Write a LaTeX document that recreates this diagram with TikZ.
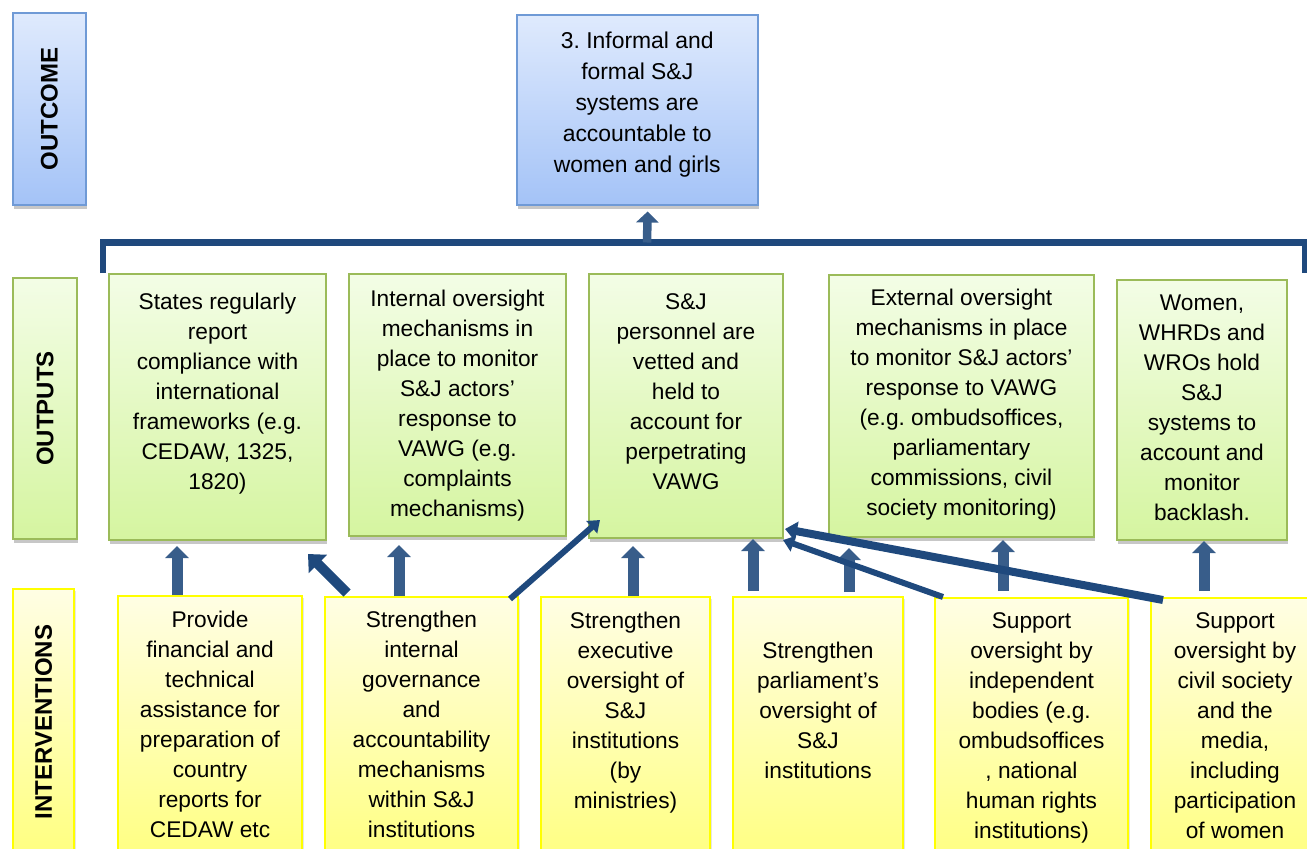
\documentclass[tikz,border=0pt]{standalone}
\usepackage{fontspec}
\setmainfont{Liberation Sans}
\frenchspacing
\usetikzlibrary{arrows.meta,shadows}

\definecolor{outcometop}{HTML}{DFEAFD}
\definecolor{outcomebot}{HTML}{A4C3F7}
\definecolor{outcomeline}{HTML}{6F9AD6}
\definecolor{outputtop}{HTML}{F3FDE6}
\definecolor{outputbot}{HTML}{D5F5A0}
\definecolor{outputline}{HTML}{9BBB59}
\definecolor{inttop}{HTML}{FFFEE4}
\definecolor{intbot}{HTML}{FFFF80}
\definecolor{intline}{HTML}{FFFF00}
\definecolor{arrowsteel}{HTML}{385D8A}
\definecolor{arrowdark}{HTML}{1F497D}

\begin{document}
\begin{tikzpicture}[x=1pt,y=-1pt,
  outcomebox/.style={draw=outcomeline, line width=1.5pt, top color=outcometop, bottom color=outcomebot,
    anchor=north west, inner sep=0pt,
    drop shadow={shadow xshift=1pt, shadow yshift=-4pt, fill=black!22, opacity=1}},
  outputbox/.style={draw=outputline, line width=2pt, top color=outputtop, bottom color=outputbot,
    anchor=north west, inner sep=0pt,
    drop shadow={shadow xshift=1pt, shadow yshift=-4pt, fill=black!22, opacity=1}},
  intbox/.style={draw=intline, line width=2pt, top color=inttop, bottom color=intbot,
    anchor=north west, inner sep=0pt,
    drop shadow={shadow xshift=2pt, shadow yshift=-2pt, fill=black!10, opacity=1}},
  body/.style={font=\fontsize{22.7}{30}\selectfont\frenchspacing, align=center, inner sep=0pt, anchor=north},
  outcometext/.style={font=\fontsize{22.9}{31}\selectfont\frenchspacing, align=center, inner sep=0pt, anchor=north},
  rowlabel/.style={font=\fontsize{24}{28}\selectfont\bfseries, rotate=90, inner sep=0pt},
  uparrow/.style={draw=arrowsteel, line width=11pt, -{Triangle[width=23pt,length=12pt]}},
  bigslant/.style={draw=arrowdark, line width=10pt, -{Triangle[width=25pt,length=14pt]}},
  thinslant/.style={draw=arrowdark, line width=6pt, -{Triangle[width=16pt,length=11pt]}},
  midslant/.style={draw=arrowdark, line width=8pt, -{Triangle[width=19pt,length=12pt]}},
  bracket/.style={draw=arrowdark, line width=6.5pt},
  bracketarrow/.style={draw=arrowsteel, line width=8.5pt, -{Triangle[width=22pt,length=11pt]}}
]
\useasboundingbox (0,0) rectangle (1307,849);

% row labels
\node[outcomebox, minimum width=73pt, minimum height=192pt] (lboxoutcome) at (12,12) {};
\node[rowlabel] (ltextoutcome) at (lboxoutcome.center) {OUTCOME};
\node[outputbox, minimum width=64pt, minimum height=261pt] (lboxoutputs) at (12,277) {};
\node[rowlabel] (ltextoutputs) at (lboxoutputs.center) {OUTPUTS};
\node[intbox, minimum width=61pt, minimum height=266pt] (lboxint) at (12,588) {};
\node[rowlabel] (ltextint) at (lboxint.center) {INTERVENTIONS};

% outcome
\node[outcomebox, minimum width=241pt, minimum height=190pt] (outc) at (516,14) {};
\node[outcometext] (outct) at ([yshift=-18pt]outc.north)
  {3. Informal and\\formal S\&J\\systems are\\accountable to\\women and girls};

% outputs
\node[outputbox, minimum width=217pt, minimum height=266pt] (o1) at (108,273) {};
\node[body] (o1t) at ([yshift=-20pt]o1.north)
  {States regularly\\report\\compliance with\\international\\frameworks (e.g.\\CEDAW, 1325,\\1820)};
\node[outputbox, minimum width=217pt, minimum height=262pt] (o2) at (348,273) {};
\node[body] (o2t) at ([yshift=-17pt]o2.north)
  {Internal oversight\\mechanisms in\\place to monitor\\S\&J actors’\\response to\\VAWG (e.g.\\complaints\\mechanisms)};
\node[outputbox, minimum width=194pt, minimum height=264pt] (o3) at (588,273) {};
\node[body] (o3t) at ([yshift=-20pt]o3.north)
  {S\&J\\personnel are\\vetted and\\held to\\account for\\perpetrating\\VAWG};
\node[outputbox, minimum width=265pt, minimum height=262pt] (o4) at (828,274) {};
\node[body] (o4t) at ([yshift=-15pt]o4.north)
  {External oversight\\mechanisms in place\\to monitor S\&J actors’\\response to VAWG\\(e.g. ombudsoffices,\\parliamentary\\commissions, civil\\society monitoring)};
\node[outputbox, minimum width=170pt, minimum height=260pt] (o5) at (1116,279) {};
\node[body] (o5t) at ([yshift=-16pt]o5.north)
  {Women,\\WHRDs and\\WROs hold\\S\&J\\systems to\\account and\\monitor\\backlash.};

% interventions
\node[intbox, minimum width=184pt, minimum height=265pt] (i1) at (117,595) {};
\node[body] (i1t) at ([yshift=-16pt]i1.north)
  {Provide\\financial and\\technical\\assistance for\\preparation of\\country\\reports for\\CEDAW etc};
\node[intbox, minimum width=193pt, minimum height=265pt] (i2) at (324,596) {};
\node[body] (i2t) at ([yshift=-15pt]i2.north)
  {Strengthen\\internal\\governance\\and\\accountability\\mechanisms\\within S\&J\\institutions};
\node[intbox, minimum width=169pt, minimum height=265pt] (i3) at (540,596) {};
\node[body] (i3t) at ([yshift=-16pt]i3.north)
  {Strengthen\\executive\\oversight of\\S\&J\\institutions\\(by\\ministries)};
\node[intbox, minimum width=170pt, minimum height=265pt] (i4) at (732,596) {};
\node[body] (i4t) at ([yshift=-46pt]i4.north)
  {Strengthen\\parliament’s\\oversight of\\S\&J\\institutions};
\node[intbox, minimum width=193pt, minimum height=265pt] (i5) at (934,597) {};
\node[body] (i5t) at ([yshift=-15pt]i5.north)
  {Support\\oversight by\\independent\\bodies (e.g.\\ombudsoffices\\, national\\human rights\\institutions)};
\node[intbox, minimum width=168pt, minimum height=265pt] (i6) at (1150,597) {};
\node[body] (i6t) at ([yshift=-15pt]i6.north)
  {Support\\oversight by\\civil society\\and the\\media,\\including\\participation\\of women};

% bracket joining the outputs to the outcome
\coordinate (brl) at (103,273);
\coordinate (brr) at (1305,273);
\coordinate (brm) at (647,242.5);
\draw[bracket] (brl) |- (brm) -| (brr);
\draw[bracketarrow, shorten >=6pt] (brm) -- ([xshift=10.5pt]outc.south);

% vertical arrows
\draw[uparrow, shorten >=5pt] ([xshift=-33pt]i1.north) -- ([xshift=-40.5pt]o1.south);
\draw[uparrow, shorten >=8pt] ([xshift=-22.5pt]i2.north) -- ([xshift=-58.5pt]o2.south);
\draw[uparrow, shorten >=7pt] ([xshift=7.5pt]i3.north) -- ([xshift=-53pt]o3.south);
\draw[uparrow, shorten >=0pt, shorten <=5pt] ([xshift=-65pt]i4.north) -- ([xshift=67pt]o3.south);
\draw[uparrow, shorten >=10pt, shorten <=4pt] ([xshift=31pt]i4.north) -- ([xshift=-112.5pt]o4.south);
\draw[uparrow, shorten >=2pt, shorten <=6pt] ([xshift=-28.5pt]i5.north) -- ([xshift=41.5pt]o4.south);
\draw[uparrow, shorten >=0pt, shorten <=6pt] ([xshift=-31pt]i6.north) -- ([xshift=2pt]o5.south);

% slanted arrows
\draw[bigslant] ([xshift=23pt,yshift=3pt]i2.north west) -- ([xshift=-19pt,yshift=-13pt]o1.south east);
\draw[thinslant] ([xshift=-9pt,yshift=-3pt]i2.north east) -- ([xshift=12pt,yshift=19pt]o3.south west);
\draw[thinslant] ([xshift=9pt]i5.north west) -- ([xshift=-1pt,yshift=-1pt]o3.south east);
\draw[midslant] ([xshift=13pt,yshift=-3pt]i6.north west) -- ([xshift=1pt,yshift=10pt]o3.south east);
\end{tikzpicture}
\end{document}
